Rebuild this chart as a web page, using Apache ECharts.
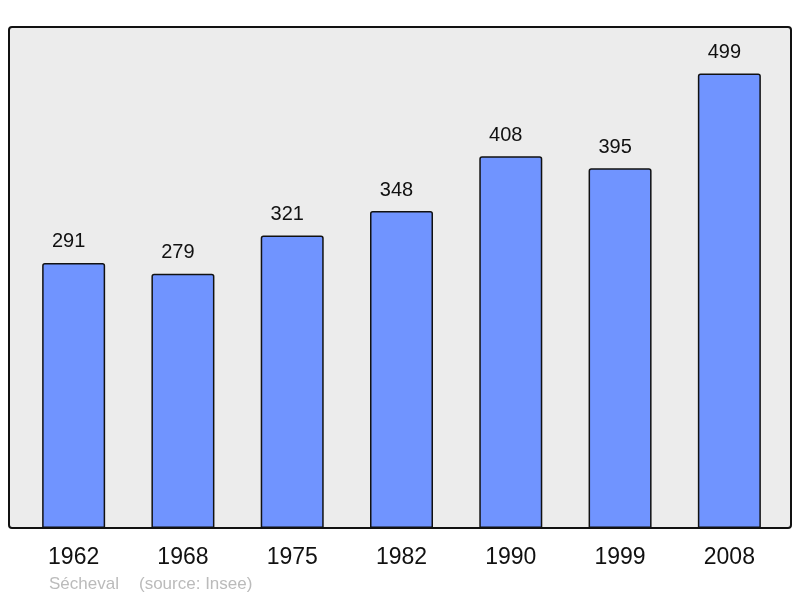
<!DOCTYPE html>
<html>
<head>
<meta charset="utf-8">
<script src="https://cdn.jsdelivr.net/npm/echarts@6/dist/echarts.min.js"></script>
<style>
  html, body { margin: 0; padding: 0; background: #fff; }
  #main { width: 800px; height: 598px; }
</style>
</head>
<body>
<div id="main"></div>
<script>
// données
var years = ['1962', '1968', '1975', '1982', '1990', '1999', '2008'];
var population = [291, 279, 321, 348, 408, 395, 499];
var commune = 'Sécheval';
var source = '(source: Insee)';

var myChart = echarts.init(document.getElementById('main'));
myChart.setOption({
  animation: false,
  textStyle: { fontFamily: 'Liberation Sans, Arial, sans-serif' },
  graphic: [
    {
      type: 'rect',
      z: -10,
      shape: { x: 9, y: 27, width: 782, height: 501, r: 3 },
      style: { fill: '#ececec', stroke: '#111', lineWidth: 2 }
    },
    {
      type: 'text',
      left: 49, top: 576,
      style: { text: commune, fill: '#bbbbbb', font: '17px Liberation Sans, Arial, sans-serif' }
    },
    {
      type: 'text',
      left: 139, top: 576,
      style: { text: source, fill: '#bbbbbb', font: '17px Liberation Sans, Arial, sans-serif' }
    }
  ],
  grid: { left: 19, right: 16, top: 27, bottom: 70 },
  xAxis: {
    type: 'category',
    data: years,
    axisLine: { show: false },
    axisTick: { show: false },
    axisLabel: { color: '#111', fontSize: 23, margin: 18 }
  },
  yAxis: {
    type: 'value',
    min: 0,
    max: 550,
    show: false,
    splitLine: { show: false }
  },
  series: [
    {
      type: 'bar',
      data: population,
      barWidth: 63,
      itemStyle: {
        color: '#7094ff',
        borderColor: '#111',
        borderWidth: 1.5,
        borderRadius: [2, 2, 0, 0]
      },
      label: {
        show: true,
        position: 'top',
        distance: 11,
        offset: [-5, 0],
        color: '#111',
        fontSize: 20
      }
    }
  ]
});
</script>
</body>
</html>
